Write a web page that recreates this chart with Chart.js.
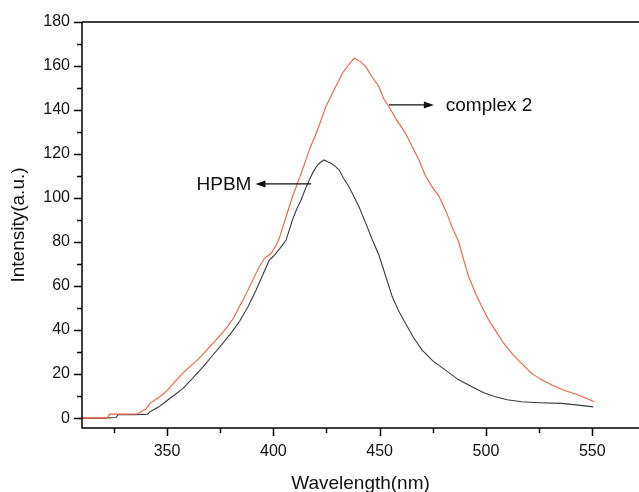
<!DOCTYPE html>
<html><head><meta charset="utf-8">
<script src="https://cdn.jsdelivr.net/npm/chart.js@4/dist/chart.umd.min.js"></script>
<style>html,body{margin:0;padding:0;background:#fff;overflow:hidden}</style>
</head><body>
<canvas id="c" width="639" height="492"></canvas>
<script>
// ---- data ----
const complexWl  = [310,318,322,323,330,336,340,342,346.6,350,353.6,357,360.6,365,370,374,377.8,381,384,387,390.3,393,395.8,398.9,401,402.8,406,409,413,416.9,420.8,424.7,428.5,432.5,435,438,441,443.5,446.5,449.7,452,454.4,458,462.2,465,468.5,471.6,474.7,477.8,481,484,487.2,489.5,491.9,495,498.1,501,504.4,508,512.2,516,521.5,526,531,537,543.5,547,551];
const complexVal = [0,0,0.2,1.8,1.8,2.0,4,6.7,9.7,12.5,16.5,20,23.3,27,32.4,36.5,40.8,45,50.6,56,62.7,68,72.6,74.8,78,81.7,91.5,100.6,111,121.8,131,141.5,149,156.7,160,163.5,162,159.7,155,150.6,145,141.5,135.5,129.4,124,117.3,110,105.1,101,94.5,87,80,72,64.2,57,50.6,45,40,34.5,29.4,25.5,20.3,17.5,15,12.5,10.5,9,7.4];
const hpbmWl  = [310,320,326,327,335,341,342,346,350,353.5,357.5,362,366.9,371,376.2,380,384,388,391.9,395,398.1,400.5,403,406,409,411,413,415,416.9,418.8,420.8,422.5,423.9,425.5,427.1,429,431,433,435.6,438,440.3,443.5,446.6,449.7,453,456,459,462.2,466,470,475,481,487,493.4,499,504.4,510,516.9,525,535.6,543.5,550.5];
const hpbmVal = [0,0,0.3,1.5,1.5,1.8,2.9,5,8,10.5,13.5,18,23.3,28,34,38.5,43.8,50.5,58.2,65,71.8,74,77,80.9,90,95,99,104,108.2,112,115,116.5,117.3,116.5,115.8,114.5,112.7,109,105.1,100.5,96,88.5,80.9,74,64,55,48.5,43,36.5,30.9,26,21.8,17.5,14.2,11.5,9.7,8.3,7.4,7,6.7,5.9,5.1];
const seriesNames = ['complex 2','HPBM'];
const xTickValues = [325,350,375,400,425,450,475,500,525,550];
const xTickLabeled = [350,400,450,500,550];
const yTickValues = [0,10,20,30,40,50,60,70,80,90,100,110,120,130,140,150,160,170,180];
const yTickLabeled = [0,20,40,60,80,100,120,140,160,180];
const xTitle = 'Wavelength(nm)';
const yTitle = 'Intensity(a.u.)';

const FONT = "'Liberation Sans', Arial, sans-serif";

const framePlugin = {
  id: 'frame',
  afterDraw(chart) {
    const {ctx, chartArea: a, scales: {x, y}} = chart;
    ctx.save();
    ctx.strokeStyle = '#000';
    ctx.lineWidth = 1.5;
    ctx.beginPath();
    ctx.moveTo(a.left, a.top); ctx.lineTo(a.right, a.top);
    ctx.moveTo(a.left, a.top); ctx.lineTo(a.left, a.bottom); ctx.lineTo(a.right, a.bottom);
    xTickValues.forEach(v => {
      const p = Math.round(x.getPixelForValue(v)) + 0.5;
      const len = xTickLabeled.includes(v) ? 8 : 5;
      ctx.moveTo(p, a.bottom); ctx.lineTo(p, a.bottom + len);
    });
    yTickValues.forEach(v => {
      const p = Math.round(y.getPixelForValue(v)) + 0.5;
      const len = yTickLabeled.includes(v) ? 8 : 5;
      ctx.moveTo(a.left, p); ctx.lineTo(a.left - len, p);
    });
    ctx.stroke();

    // annotations with arrows
    ctx.fillStyle = '#111';
    ctx.strokeStyle = '#111';
    ctx.lineWidth = 1.2;
    ctx.font = '19px ' + FONT;
    ctx.textBaseline = 'middle';
    // HPBM: arrow points left, from curve toward label
    let y1 = y.getPixelForValue(106.4);
    let xs = x.getPixelForValue(417.8), xe = x.getPixelForValue(391.6);
    ctx.beginPath(); ctx.moveTo(xs, y1); ctx.lineTo(xe + 8, y1); ctx.stroke();
    ctx.beginPath(); ctx.moveTo(xe, y1); ctx.lineTo(xe + 10, y1 - 3.5); ctx.lineTo(xe + 10, y1 + 3.5); ctx.closePath(); ctx.fill();
    ctx.textAlign = 'right';
    ctx.fillText(seriesNames[1], x.getPixelForValue(389.7), y1 + 1);
    // complex 2: arrow points right
    let y2 = y.getPixelForValue(142.3);
    xs = x.getPixelForValue(454.4); xe = x.getPixelForValue(475.5);
    ctx.beginPath(); ctx.moveTo(xs, y2); ctx.lineTo(xe - 8, y2); ctx.stroke();
    ctx.beginPath(); ctx.moveTo(xe, y2); ctx.lineTo(xe - 10, y2 - 3.5); ctx.lineTo(xe - 10, y2 + 3.5); ctx.closePath(); ctx.fill();
    ctx.textAlign = 'left';
    ctx.fillText(seriesNames[0], x.getPixelForValue(481.1), y2 + 1);
    ctx.restore();
  }
};

new Chart(document.getElementById('c'), {
  type: 'line',
  data: {
    datasets: [
      { label: seriesNames[0], data: complexWl.map((w, i) => ({x: w, y: complexVal[i]})),
        borderColor: '#f0603c', borderWidth: 1.1, pointRadius: 0, tension: 0, fill: false },
      { label: seriesNames[1], data: hpbmWl.map((w, i) => ({x: w, y: hpbmVal[i]})),
        borderColor: '#3c3c3c', borderWidth: 1.1, pointRadius: 0, tension: 0, fill: false }
    ]
  },
  options: {
    responsive: false,
    animation: false,
    events: [],
    layout: { padding: { top: 22, right: 0, left: 0, bottom: 0 } },
    plugins: { legend: { display: false }, tooltip: { enabled: false } },
    scales: {
      x: {
        type: 'linear', min: 310, max: 572,
        grid: { display: false }, border: { display: false },
        afterBuildTicks: s => { s.ticks = xTickValues.map(v => ({value: v})); },
        afterFit: s => { s.height = 64; },
        ticks: { autoSkip: false, maxRotation: 0, padding: 6, color: '#111',
          font: { family: FONT, size: 16 },
          callback: v => xTickLabeled.includes(v) ? String(v) : '' },
        title: { display: true, text: xTitle, color: '#111', font: { family: FONT, size: 19 }, padding: { top: 4, bottom: -3 } }
      },
      y: {
        type: 'linear', min: -4.5, max: 180,
        grid: { display: false }, border: { display: false },
        afterBuildTicks: s => { s.ticks = yTickValues.map(v => ({value: v})); },
        afterFit: s => { s.width = 82; },
        ticks: { autoSkip: false, padding: 4, color: '#111',
          font: { family: FONT, size: 16 },
          callback: v => yTickLabeled.includes(v) ? String(v) : '' },
        title: { display: true, text: yTitle, color: '#111', font: { family: FONT, size: 19 }, padding: { top: 7, bottom: 0 } }
      }
    }
  },
  plugins: [framePlugin]
});
</script>
</body></html>
